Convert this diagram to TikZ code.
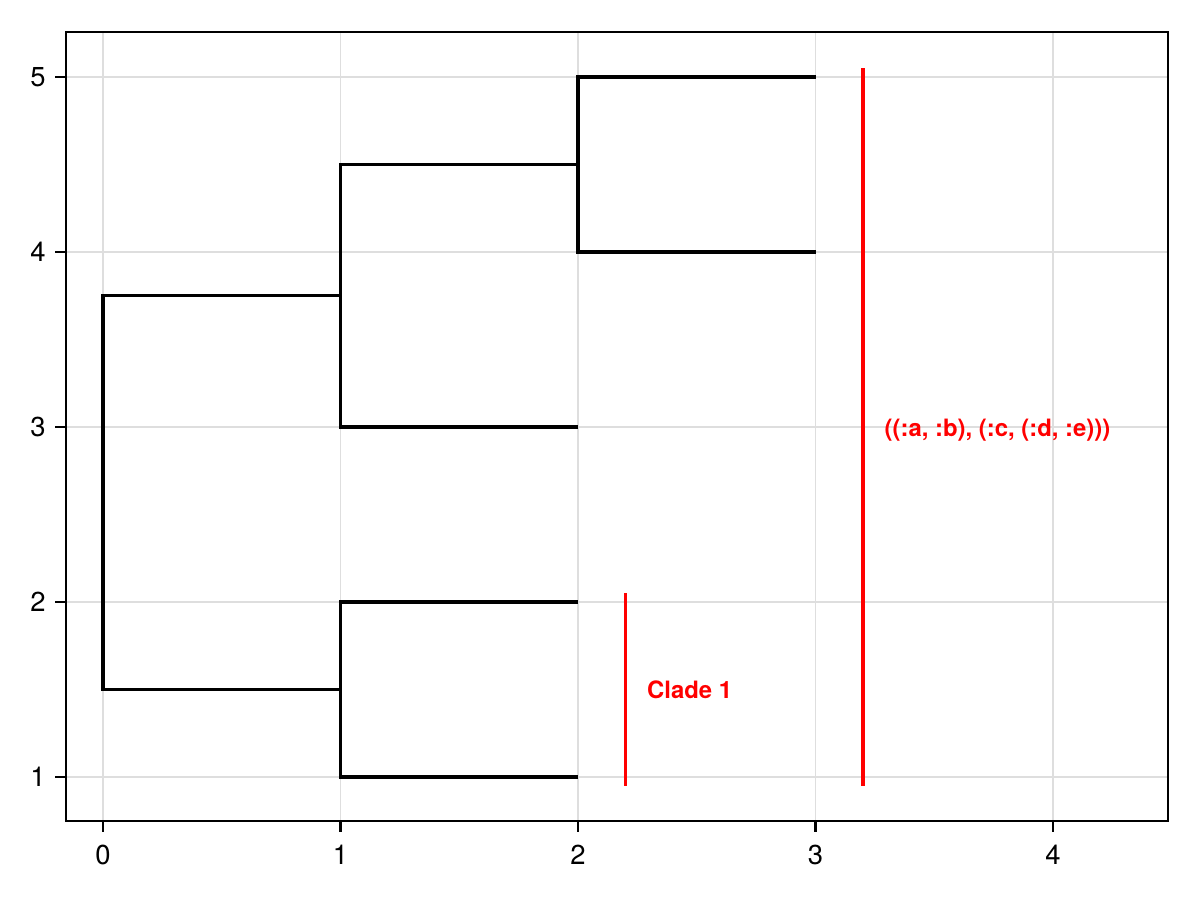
\documentclass[tikz,border=0pt]{standalone}
\usepackage{fontspec}
\setmainfont{TeX Gyre Heros}
\usepackage{tikz}
\usetikzlibrary{calc}
\definecolor{gridgray}{gray}{0.87}
\tikzstyle{branch} = [black, line width=2.5pt]
\tikzstyle{clademark} = [red, line width=2.2pt]
\tikzstyle{cladelabel} = [red, anchor=west, inner sep=0pt, font=\fontsize{17}{20}\selectfont\bfseries]
\tikzstyle{ticklabel} = [inner sep=0pt, font=\fontsize{19.5}{23}\selectfont]
\tikzset{
  gridline/.style={gridgray, line width=1.4pt},
  frame/.style={black, line width=1.5pt}
}

\begin{document}
\begin{tikzpicture}
  \useasboundingbox (0,0) rectangle (30,22.5);
  \begin{scope}[x=5.9375cm, y=4.375cm, shift={(2.575cm,-1.3cm)}]
    % grid
    \foreach \gx in {0,...,4}
      \draw[gridline] (\gx,0.7486) -- (\gx,5.2571);
    \foreach \gy in {1,...,5}
      \draw[gridline] (-0.1558,\gy) -- (4.4842,\gy);
    % axes box and ticks
    \draw[frame] (-0.1558,0.7486) rectangle (4.4842,5.2571);
    \foreach \gx in {0,...,4} {
      \draw[frame] (\gx,0.7486) -- ++(0,-0.275cm);
      \node (xt\gx)[ticklabel, anchor=north] at ($(\gx,0.7486)+(0,-0.6cm)$) {\gx};
    }
    \foreach \gy in {1,...,5} {
      \draw[frame] (-0.1558,\gy) -- ++(-0.275cm,0);
      \node (yt\gy)[ticklabel, anchor=east] at ($(-0.1558,\gy)+(-0.5cm,0)$) {\gy};
    }
    % tree
    \draw[branch] (1,1.5) -- (0,1.5) -- (0,3.75) -- (1,3.75);
    \draw[branch] (2,1) -- (1,1) -- (1,2) -- (2,2);
    \draw[branch] (2,3) -- (1,3) -- (1,4.5) -- (2,4.5);
    \draw[branch] (3,4) -- (2,4) -- (2,5) -- (3,5);
    % clade bars
    \coordinate (c1lo) at (2.2,0.95);
    \coordinate (c1hi) at (2.2,2.05);
    \coordinate (c2lo) at (3.2,0.95);
    \coordinate (c2hi) at (3.2,5.05);
    \draw[clademark] (c1lo) -- (c1hi);
    \draw[clademark] (c2lo) -- (c2hi);
    \node (cl1)[cladelabel] at (2.29,1.5) {Clade 1};
    \node (cl2)[cladelabel] at (3.29,2.98) {((:a, :b), (:c, (:d, :e)))};
  \end{scope}
\end{tikzpicture}
\end{document}
